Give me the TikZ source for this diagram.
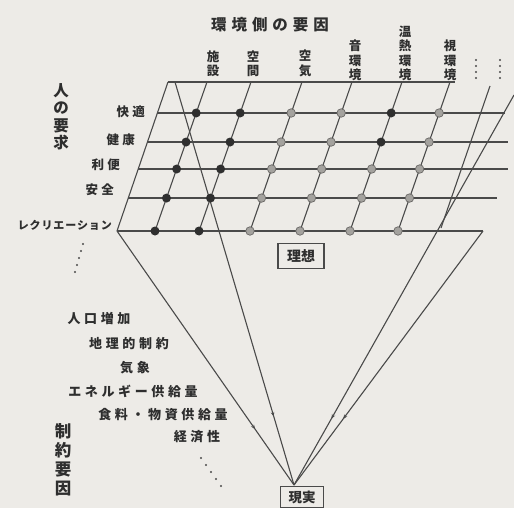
\documentclass[tikz,border=0pt]{standalone}
\usepackage{fontspec}
\usetikzlibrary{arrows.meta,decorations.markings,calc}
\newfontfamily\jpT[LetterSpace=32]{Noto Sans CJK JP}
\newfontfamily\jpR[LetterSpace=25]{Noto Sans CJK JP}
\newfontfamily\jpK[LetterSpace=8]{Noto Sans CJK JP}
\newfontfamily\jpB[LetterSpace=28]{Noto Sans CJK JP}
\newfontfamily\jpV{Noto Sans CJK JP}
\definecolor{bg}{HTML}{EDEBE7}
\definecolor{lc}{HTML}{4A4A4A}
\definecolor{tc}{HTML}{2E2E2E}
\definecolor{dc}{HTML}{2F2F2F}
\definecolor{gc}{HTML}{A4A29E}
\definecolor{gcd}{HTML}{6A6866}
\begin{document}
\begin{tikzpicture}[x=1pt,y=-1pt,
  ln/.style={draw=lc, line width=1.1pt},
  conv/.style={draw=lc, line width=1.1pt, postaction={decorate},
    decoration={markings, mark=at position #1 with {\arrow{Stealth[length=4.5pt,width=3.6pt]}}}},
  blk/.style={circle, fill=dc, inner sep=0pt, minimum size=9pt},
  gry/.style={circle, fill=gc, draw=gcd, line width=0.7pt, inner sep=0pt, minimum size=8.5pt},
  txt/.style={text=tc, inner sep=0pt},
  vtxt/.style={text=tc, inner sep=0pt, align=center},
  box/.style={draw=lc, line width=1.3pt, text=tc, inner xsep=6pt, inner ysep=4pt},
  dotc/.style={circle, fill=lc, inner sep=0pt, minimum size=2.2pt}
]
\useasboundingbox[fill=bg] (0,0) rectangle (514,508);

% grid frame
\coordinate (TL) at (168,82);
\coordinate (TR) at (455,82);
\coordinate (BL) at (117,231);
\draw[ln] (TL) -- (TR);
\draw[ln] (TL) -- (BL);

% rows
\coordinate (r1l) at (157.4,113); \coordinate (r1r) at (505,113);
\coordinate (r2l) at (147.5,142); \coordinate (r2r) at (508,142);
\coordinate (r3l) at (138.2,169); \coordinate (r3r) at (508,169);
\coordinate (r4l) at (128.3,198); \coordinate (r4r) at (497,198);
\coordinate (r5r) at (483,231);
\foreach \j in {1,...,4} {\draw[ln] (r\j l) -- (r\j r);}
\draw[ln] (BL) -- (r5r);

% columns
\foreach \i/\xt in {1/207,2/251,3/302,4/352,5/402,6/450} {
  \coordinate (c\i t) at (\xt,82);
  \coordinate (c\i b) at (\xt-52,231);
  \draw[ln] (c\i t) -- (c\i b);
}
\coordinate (c7t) at (490,86);
\coordinate (c7b) at (441,228);
\draw[ln] (c7t) -- (c7b);

% apex and converging lines
\coordinate (P) at (294,485);
\coordinate (L1s) at (175,82);
\coordinate (R1s) at (514,95);
\draw[conv=0.83] (L1s) -- (P);
\draw[conv=0.78] (BL) -- (P);
\draw[conv=0.83] (R1s) -- (P);
\draw[conv=0.74] (r5r) -- (P);

% dots
\foreach \i in {1,...,6} {
  \foreach \j/\f in {1/0.208,2/0.403,3/0.584,4/0.779,5/1} {
    \pgfmathsetmacro{\isblack}{(\i<3) || (\i==5 && \j<3) ? 1 : 0}
    \ifdim\isblack pt>0.5pt
      \node[blk] (d\i\j) at ($(c\i t)!\f!(c\i b)$) {};
    \else
      \node[gry] (d\i\j) at ($(c\i t)!\f!(c\i b)$) {};
    \fi
  }
}

% title and column headers
\node[txt, font=\jpT\bfseries\fontsize{15.5}{17}\selectfont] (title) at (270,25) {環境側の要因};
\begin{scope}[every node/.style={vtxt, anchor=south, font=\jpV\bfseries\fontsize{12.5}{14.5}\selectfont}]
  \node (h1) at (213,77) {施\\設};
  \node (h2) at (253,77) {空\\間};
  \node (h3) at (305,77) {空\\気};
  \node (h4) at (355,81) {音\\環\\境};
  \node (h5) at (405,81) {温\\熱\\環\\境};
  \node (h6) at (450,81) {視\\環\\境};
\end{scope}
\foreach \k/\yy in {1/60,2/66,3/72,4/78} {
  \node[dotc] (va\k) at (476,\yy) {};
  \node[dotc] (vb\k) at (500,\yy) {};
}

% left: human needs
\node[vtxt, font=\jpV\bfseries\fontsize{15.5}{17.5}\selectfont] (need) at (61,117) {人\\の\\要\\求};
\begin{scope}[every node/.style={txt, anchor=east, font=\jpR\bfseries\fontsize{12.5}{14}\selectfont}]
  \node (n1) at (145,112) {快適};
  \node (n2) at (135,140) {健康};
  \node (n3) at (120,165) {利便};
  \node (n4) at (114,190) {安全};
\end{scope}
\node[txt, anchor=east, font=\jpK\bfseries\fontsize{11}{12}\selectfont] (n5) at (112,225) {レクリエーション};
\foreach \k/\xx/\yy in {1/83/244,2/81/251,3/79/258,4/77/265,5/75/272} {
  \node[dotc] (ld\k) at (\xx,\yy) {};
}

% ideal and reality boxes
\node[box, font=\jpV\bfseries\fontsize{14}{15}\selectfont, inner xsep=9pt, inner ysep=6pt] (ideal) at (301,256) {理想};
\node[box, font=\jpV\bfseries\fontsize{13.5}{15}\selectfont, anchor=north, inner xsep=8pt] (real) at (302,486) {現実};

% constraints
\begin{scope}[every node/.style={txt, font=\jpB\bfseries\fontsize{13}{14}\selectfont}]
  \node (k1) at (99,319) {人口増加};
  \node (k2) at (129,344) {地理的制約};
  \node (k3) at (135,368) {気象};
  \node (k4) at (133,391) {エネルギー供給量};
  \node (k5) at (163,415) {食料・物資供給量};
  \node (k6) at (197,437) {経済性};
\end{scope}
\foreach \k/\xx/\yy in {1/201/458,2/206/465,3/211/472,4/216/479,5/221/486} {
  \node[dotc] (bd\k) at (\xx,\yy) {};
}
\node[vtxt, font=\jpV\bfseries\fontsize{16.5}{19}\selectfont] (cons) at (63,460) {制\\約\\要\\因};
\end{tikzpicture}
\end{document}
